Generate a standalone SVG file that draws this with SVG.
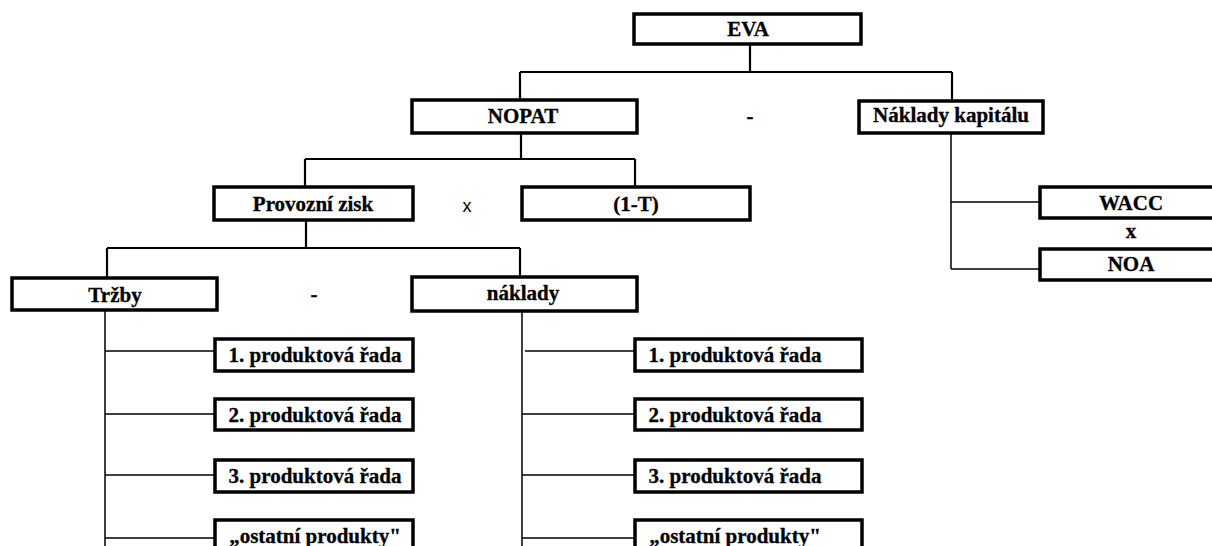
<svg xmlns="http://www.w3.org/2000/svg" width="1212" height="546" viewBox="0 0 1212 546">
  <style>
    .box { fill: #fff; stroke: #000; stroke-width: 3.5; }
    .lbl { font-family: "Liberation Serif", "Times New Roman", serif; font-weight: bold; font-size: 21px; text-anchor: middle; fill: #000; stroke: #000; stroke-width: 0.3; }
    .op { font-family: "Liberation Sans", Arial, sans-serif; font-size: 18px; text-anchor: middle; fill: #000; }
    .c2 { stroke: #000; stroke-width: 2.2; fill: none; }
    .c1 { stroke: #000; stroke-width: 1.5; fill: none; }
  </style>
  <rect width="1212" height="546" fill="#fff"/>

  <!-- connectors -->
  <g id="connectors">
    <path class="c2" d="M750 44V72M520 72H952M520 72V100M952 72V101"/>
    <path class="c2" d="M521 133V159M305 159H635M305 159V187M635 159V187"/>
    <path class="c2" d="M306 220V248M107 248H520M107 248V278M520 248V277"/>
    <path class="c1" d="M951 133V269M951 202H1040M951 269H1040"/>
    <path class="c1" d="M105 310V546M105 351H215M105 414H215M105 475H215M105 538H215"/>
    <path class="c1" d="M522 311V546M525 351H635M522 414H635M522 475H635M522 538H635"/>
  </g>

  <!-- operators between nodes -->
  <g id="operators">
    <text class="lbl" x="750" y="123">-</text>
    <text class="op" x="467" y="212">x</text>
    <text class="lbl" x="314" y="301">-</text>
    <text class="lbl" x="1131" y="238">x</text>
  </g>

  <g id="eva">
    <rect class="box" x="634" y="14" width="227" height="30"/>
    <text class="lbl" x="748" y="36">EVA</text>
  </g>
  <g id="nopat">
    <rect class="box" x="412" y="100" width="225" height="33"/>
    <text class="lbl" x="523" y="123">NOPAT</text>
  </g>
  <g id="naklady-kapitalu">
    <rect class="box" x="859" y="101" width="184" height="32"/>
    <text class="lbl" x="951" y="122">Náklady kapitálu</text>
  </g>
  <g id="provozni-zisk">
    <rect class="box" x="214" y="187" width="199" height="33"/>
    <text class="lbl" x="313" y="211">Provozní zisk</text>
  </g>
  <g id="one-minus-t">
    <rect class="box" x="522" y="187" width="228" height="33"/>
    <text class="lbl" x="636" y="211">(1-T)</text>
  </g>
  <g id="wacc">
    <rect class="box" x="1040" y="187" width="180" height="31"/>
    <text class="lbl" x="1131" y="210">WACC</text>
  </g>
  <g id="noa">
    <rect class="box" x="1040" y="249" width="180" height="31"/>
    <text class="lbl" x="1131" y="271">NOA</text>
  </g>
  <g id="trzby">
    <rect class="box" x="12" y="278" width="205" height="32"/>
    <text class="lbl" x="115" y="302">Tržby</text>
  </g>
  <g id="naklady">
    <rect class="box" x="412" y="277" width="225" height="34"/>
    <text class="lbl" x="523" y="300">náklady</text>
  </g>

  <!-- product lines under Tržby -->
  <g id="trzby-rada-1">
    <rect class="box" x="215" y="339" width="198" height="32"/>
    <text class="lbl" x="315" y="362">1. produktová řada</text>
  </g>
  <g id="trzby-rada-2">
    <rect class="box" x="215" y="399" width="198" height="31"/>
    <text class="lbl" x="315" y="422">2. produktová řada</text>
  </g>
  <g id="trzby-rada-3">
    <rect class="box" x="215" y="460" width="198" height="32"/>
    <text class="lbl" x="315" y="483">3. produktová řada</text>
  </g>
  <g id="trzby-ostatni">
    <rect class="box" x="215" y="520" width="198" height="34"/>
    <text class="lbl" x="315" y="543">„ostatní produkty"</text>
  </g>

  <!-- product lines under náklady -->
  <g id="naklady-rada-1">
    <rect class="box" x="635" y="339" width="227" height="32"/>
    <text class="lbl" x="735" y="362">1. produktová řada</text>
  </g>
  <g id="naklady-rada-2">
    <rect class="box" x="635" y="399" width="227" height="31"/>
    <text class="lbl" x="735" y="422">2. produktová řada</text>
  </g>
  <g id="naklady-rada-3">
    <rect class="box" x="635" y="460" width="227" height="32"/>
    <text class="lbl" x="735" y="483">3. produktová řada</text>
  </g>
  <g id="naklady-ostatni">
    <rect class="box" x="635" y="520" width="227" height="34"/>
    <text class="lbl" x="735" y="543">„ostatní produkty"</text>
  </g>
</svg>
